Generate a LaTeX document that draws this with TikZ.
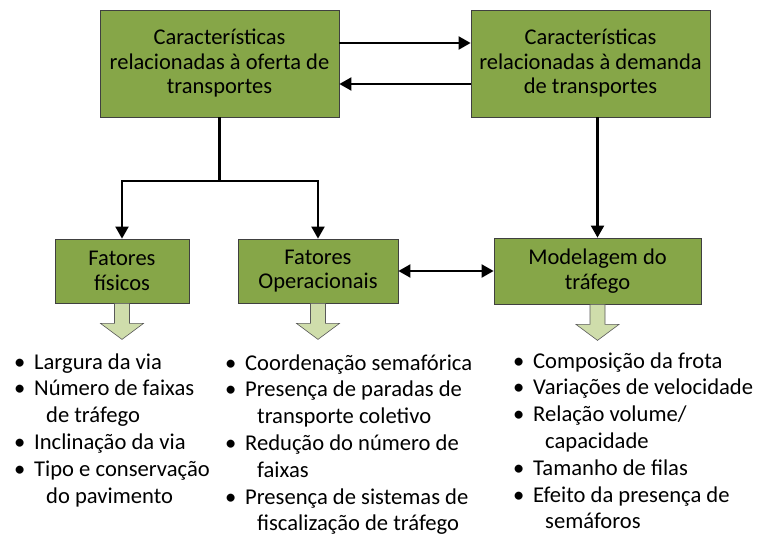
\documentclass[tikz,border=0pt]{standalone}
\usepackage{fontspec}
\setmainfont{Carlito}
\usetikzlibrary{arrows.meta}
\definecolor{boxgreen}{RGB}{134,166,72}
\definecolor{lightgreen}{RGB}{207,221,171}
\newcommand\bitem[1]{\makebox[20pt][l]{\textbullet}#1}
\newcommand\bcont[1]{\hspace{32pt}#1}
\tikzset{
  gbox/.style={draw=black!75, line width=0.8pt, fill=boxgreen, inner sep=0pt,
    align=center, font=\fontsize{22.5}{24.5}\selectfont},
  arr/.style={line width=2.1pt, -{Triangle[length=12pt,width=13pt]}},
  darr/.style={line width=2.1pt, {Triangle[length=12pt,width=13pt]}-{Triangle[length=12pt,width=13pt]}},
  blockarrow/.style={draw=black!65, line width=0.6pt, fill=lightgreen},
  listnode/.style={inner sep=0pt, anchor=base west, font=\fontsize{22.6}{26.8}\selectfont}
}
\newcommand\blockdown[1]{%
  \draw[blockarrow] (#1.south) ++(-7.5,0) -- ++(0,20) -- ++(-14,0) -- ++(21.5,16)
    -- ++(21.5,-16) -- ++(-14,0) -- ++(0,-20) -- cycle;}
\begin{document}
\begin{tikzpicture}[x=1pt,y=-1pt]
\useasboundingbox (0,0) rectangle (758,538);
% boxes
\node[gbox, minimum width=239pt, minimum height=107pt] (A) at (219.5,63.5)
  {Características\\relacionadas à oferta de\\transportes};
\node[gbox, minimum width=239pt, minimum height=107pt] (B) at (590.5,63.5)
  {Características\\relacionadas à demanda\\de transportes};
\node[gbox, minimum width=134pt, minimum height=64pt] (C) at (122,271)
  {Fatores\\físicos};
\node[gbox, minimum width=160pt, minimum height=64pt] (D) at (318,271)
  {Fatores\\Operacionais};
\node[gbox, minimum width=207pt, minimum height=66pt] (E) at (597.5,271)
  {Modelagem do\\tráfego};
% connector levels
\coordinate (t1) at (0,43);
\coordinate (t2) at (0,84);
\coordinate (j) at (0,181);
\draw[arr] (A.east |- t1) -- (B.west |- t1);
\draw[arr] (B.west |- t2) -- (A.east |- t2);
\draw[line width=2.1pt] (A.south) -- (A.south |- j);
\draw[arr] (A.south |- j) -| (C.north);
\draw[arr] (A.south |- j) -| (D.north);
\draw[arr] (E.north |- B.south) -- (E.north);
\draw[darr] (D.east) -- (E.west);
% block arrows
\blockdown{C}
\blockdown{D}
\blockdown{E}
% lists
\node[listnode] (L1) at (14,369) {\begin{tabular}[t]{@{}l@{}}
\bitem{Largura da via}\\
\bitem{Número de faixas}\\
\bcont{de tráfego}\\
\bitem{Inclinação da via}\\
\bitem{Tipo e conservação}\\
\bcont{do pavimento}
\end{tabular}};
\node[listnode] (L2) at (225,370) {\begin{tabular}[t]{@{}l@{}}
\bitem{Coordenação semafórica}\\
\bitem{Presença de paradas de}\\
\bcont{transporte coletivo}\\
\bitem{Redução do número de}\\
\bcont{faixas}\\
\bitem{Presença de sistemas de}\\
\bcont{fiscalização de tráfego}
\end{tabular}};
\node[listnode] (L3) at (513,368) {\begin{tabular}[t]{@{}l@{}}
\bitem{Composição da frota}\\
\bitem{Variações de velocidade}\\
\bitem{Relação volume/}\\
\bcont{capacidade}\\
\bitem{Tamanho de filas}\\
\bitem{Efeito da presença de}\\
\bcont{semáforos}
\end{tabular}};
\end{tikzpicture}
\end{document}
